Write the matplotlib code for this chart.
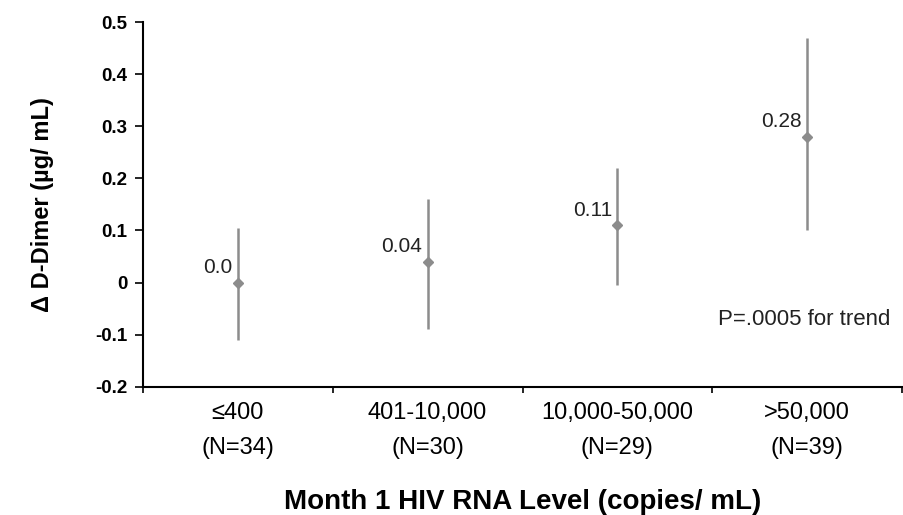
import matplotlib.pyplot as plt

plt.rcParams['font.family'] = ['Liberation Sans', 'DejaVu Sans']

categories = ['\u2264400\n(N=34)', '401-10,000\n(N=30)', '10,000-50,000\n(N=29)', '>50,000\n(N=39)']
means = [0.0, 0.04, 0.11, 0.28]
ci_low = [-0.11, -0.09, -0.005, 0.10]
ci_high = [0.105, 0.16, 0.22, 0.47]
labels = ['0.0', '0.04', '0.11', '0.28']

fig = plt.figure(figsize=(9.04, 5.15), dpi=100)
ax = fig.add_axes([0.158, 0.249, 0.84, 0.708])

gray = '#8c8c8c'
xs = list(range(len(categories)))
ax.vlines(xs, ci_low, ci_high, color=gray, linewidth=1.8)
ax.plot(xs, means, 'D', color=gray, markersize=5, linestyle='none')

for x, m, lab in zip(xs, means, labels):
    ax.annotate(lab, (x, m), xytext=(-4, 11), textcoords='offset points',
                ha='right', va='center', fontsize=15, color='#222222')

ax.text(0.984, 0.184, 'P=.0005 for trend', transform=ax.transAxes,
        ha='right', va='center', fontsize=16, color='#222222')

ax.set_xlim(-0.5, 3.5)
ax.set_ylim(-0.2, 0.5)
ax.set_yticks([-0.2, -0.1, 0, 0.1, 0.2, 0.3, 0.4, 0.5])
ax.set_yticklabels(['-0.2', '-0.1', '0', '0.1', '0.2', '0.3', '0.4', '0.5'],
                   fontweight='bold', fontsize=13.5)

# ticks at category boundaries, labels centred
ax.set_xticks([-0.5, 0.5, 1.5, 2.5, 3.5])
ax.set_xticklabels([])
ax.set_xticks(xs, minor=True)
ax.set_xticklabels(categories, minor=True, fontsize=17, linespacing=1.75)
ax.tick_params(axis='x', which='minor', length=0, pad=11)
ax.tick_params(axis='x', which='major', length=4, width=1.2)
ax.tick_params(axis='y', length=6, width=1.2, pad=5)

for s in ['top', 'right']:
    ax.spines[s].set_visible(False)
for s in ['left', 'bottom']:
    ax.spines[s].set_linewidth(1.5)

ax.set_ylabel('\u0394 D-Dimer (\u00b5g/ mL)', fontsize=17, fontweight='bold', labelpad=30)
ax.set_xlabel('Month 1 HIV RNA Level (copies/ mL)', fontsize=20, fontweight='bold', labelpad=22)

fig.savefig('out.png', dpi=100)
